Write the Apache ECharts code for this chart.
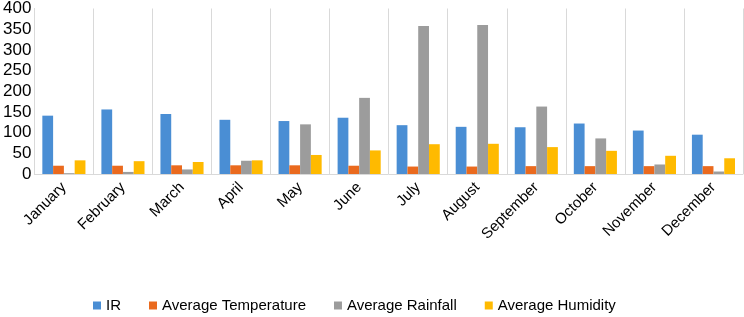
<!DOCTYPE html>
<html lang="en">
<head>
<meta charset="UTF-8">
<title>Monthly climate</title>
<style>
  * { margin: 0; padding: 0; }
  body { background: #fff; }
  #chart { width: 744px; height: 317px; }
</style>
</head>
<body>
<div id="chart"></div>
<script src="https://cdn.jsdelivr.net/npm/echarts@6/dist/echarts.min.js"></script>
<script>
var months = ['January', 'February', 'March', 'April', 'May', 'June', 'July',
  'August', 'September', 'October', 'November', 'December'];
var irData = [141, 156, 145, 131, 128, 136, 118, 114, 113, 122, 105, 95];
var tempData = [20, 20, 21, 21, 21, 20, 18, 18, 19, 19, 19, 19];
var rainData = [2, 5, 11, 32, 120, 184, 358, 360, 163, 86, 23, 6];
var humidData = [33, 31, 29, 33, 46, 57, 72, 73, 65, 56, 44, 38];
var seriesNames = ['IR', 'Average Temperature', 'Average Rainfall', 'Average Humidity'];
var seriesColors = ['#4a8ed4', '#ea6a1e', '#9c9c9c', '#ffba00'];

var myChart = echarts.init(document.getElementById('chart'));

function makeBar(i, data) {
  return {
    type: 'bar',
    name: seriesNames[i],
    data: data,
    barGap: '0%',
    barCategoryGap: '27%',
    itemStyle: { color: seriesColors[i] }
  };
}

var option = {
  animation: false,
  color: seriesColors,
  grid: { left: 32, right: 1, top: 7, bottom: 143 },
  legend: {
    left: 93,
    top: 298,
    padding: 0,
    icon: 'rect',
    itemWidth: 8,
    itemHeight: 8,
    itemGap: 28,
    textStyle: { fontFamily: 'Liberation Sans', fontSize: 15, color: '#000' },
    data: seriesNames
  },
  xAxis: {
    type: 'category',
    data: months,
    axisTick: { show: false },
    axisLine: { lineStyle: { color: '#d9d9d9' } },
    splitLine: { show: true, lineStyle: { color: '#d9d9d9' } },
    axisLabel: {
      interval: 0,
      rotate: 45,
      margin: 11,
      fontFamily: 'Liberation Sans',
      fontSize: 15,
      color: '#000'
    }
  },
  yAxis: {
    type: 'value',
    min: 0,
    max: 400,
    interval: 50,
    axisTick: { show: false },
    axisLine: { show: true, lineStyle: { color: '#d9d9d9' } },
    splitLine: { show: false },
    axisLabel: {
      margin: 3,
      fontFamily: 'Liberation Sans',
      fontSize: 17,
      color: '#000'
    }
  },
  series: [
    makeBar(0, irData),
    makeBar(1, tempData),
    makeBar(2, rainData),
    makeBar(3, humidData)
  ]
};
myChart.setOption(option);
</script>
</body>
</html>
